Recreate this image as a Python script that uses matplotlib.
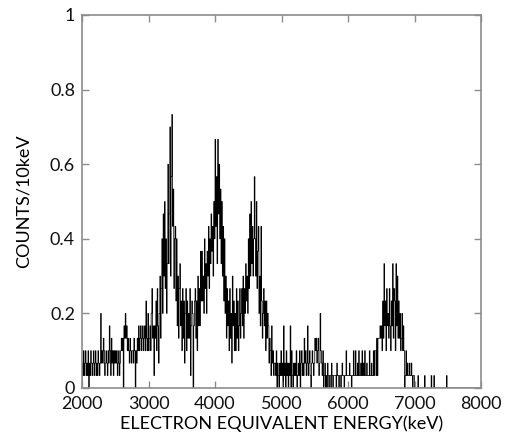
import numpy as np
import matplotlib
matplotlib.use('Agg')
import matplotlib.pyplot as plt

plt.rcParams['font.family'] = ['Lato', 'DejaVu Sans']

# 10 keV bins from 2000 to 8000 keV, counts in units of 1/30
bin_start = 2000
bin_width = 10
scale = 30.0

counts = [
    2, 1, 3, 1, 2, 3, 1, 2, 1, 3,      # 2000
    0, 2, 1, 3, 2, 1, 2, 3, 1, 2,      # 2100
    3, 1, 2, 1, 3, 2, 1, 2, 6, 2,      # 2200
    3, 2, 4, 3, 1, 2, 3, 2, 1, 3,      # 2300
    2, 5, 3, 1, 4, 2, 3, 1, 3, 2,      # 2400
    3, 2, 3, 1, 2, 3, 1, 2, 3, 4,      # 2500
    3, 4, 0, 5, 4, 6, 4, 5, 3, 4,      # 2600
    3, 2, 4, 3, 2, 3, 3, 2, 4, 3,      # 2700
    0, 3, 2, 4, 3, 5, 3, 4, 5, 3,      # 2800
    4, 5, 3, 4, 5, 3, 7, 4, 3, 6,      # 2900
    3, 4, 5, 3, 6, 8, 4, 5, 1, 5,      # 3000
    4, 7, 3, 8, 5, 2, 6, 9, 4, 8,      # 3100
    12, 6, 14, 9, 15, 8, 12, 6, 10, 18,    # 3200
    10, 14, 21, 9, 17, 22, 13, 16, 8, 12,  # 3300
    13, 7, 12, 5, 9, 4, 8, 10, 5, 7,   # 3400
    3, 8, 4, 7, 2, 6, 8, 3, 7, 4,      # 3500
    6, 4, 8, 1, 5, 7, 6, 0, 5, 7,      # 3600
    8, 4, 7, 3, 9, 5, 8, 5, 11, 7,     # 3700
    11, 7, 9, 6, 12, 8, 10, 6, 11, 9,  # 3800
    13, 8, 12, 10, 14, 11, 13, 9, 15, 12,  # 3900
    20, 13, 17, 10, 20, 14, 18, 12, 16, 10,  # 4000
    15, 9, 13, 7, 12, 6, 9, 4, 8, 5,   # 4100
    7, 3, 8, 4, 6, 2, 9, 5, 7, 3,      # 4200
    6, 3, 8, 4, 7, 3, 5, 8, 4, 6,      # 4300
    8, 5, 9, 4, 8, 6, 10, 7, 9, 6,     # 4400
    12, 8, 14, 9, 15, 10, 13, 9, 12, 17,   # 4500
    12, 9, 15, 8, 11, 13, 6, 9, 5, 13,  # 4600
    7, 4, 6, 8, 5, 7, 3, 7, 4, 6,      # 4700
    5, 2, 4, 3, 1, 5, 2, 3, 1, 2,      # 4800
    2, 1, 3, 0, 2, 1, 0, 2, 1, 3,      # 4900
    1, 2, 0, 5, 1, 2, 0, 3, 1, 2,      # 5000
    0, 2, 1, 5, 0, 3, 1, 0, 2, 1,      # 5100
    2, 1, 3, 0, 1, 2, 1, 3, 0, 2,      # 5200
    3, 1, 2, 1, 4, 2, 3, 1, 2, 5,      # 5300
    1, 2, 3, 1, 0, 2, 3, 2, 1, 2,      # 5400
    4, 3, 4, 2, 3, 4, 1, 2, 6, 3,      # 5500
    2, 1, 3, 0, 1, 2, 0, 1, 0, 2,      # 5600
    1, 0, 1, 1, 0, 2, 1, 0, 1, 1,      # 5700
    1, 1, 0, 2, 1, 1, 0, 1, 1, 0,      # 5800
    1, 2, 1, 1, 0, 1, 1, 3, 1, 1,      # 5900
    1, 1, 2, 1, 1, 0, 1, 1, 3, 1,      # 6000
    1, 3, 1, 1, 2, 1, 3, 1, 1, 2,      # 6100
    1, 3, 1, 2, 1, 3, 1, 1, 2, 1,      # 6200
    1, 1, 3, 1, 1, 2, 1, 1, 3, 1,      # 6300
    3, 3, 1, 4, 1, 4, 4, 4, 5, 4,      # 6400
    5, 3, 7, 4, 10, 5, 7, 3, 8, 5,     # 6500
    6, 4, 8, 5, 3, 7, 5, 10, 4, 8,     # 6600
    7, 3, 10, 5, 9, 4, 7, 4, 6, 3,     # 6700
    4, 6, 3, 5, 3, 0, 1, 3, 1, 2,      # 6800
    1, 1, 2, 1, 1, 2, 1, 0, 1, 1,      # 6900
    0, 0, 0, 0, 0, 1, 0, 0, 0, 0,      # 7000
    0, 0, 0, 0, 0, 1, 0, 0, 0, 0,      # 7100
    0, 0, 0, 0, 0, 1, 0, 0, 0, 1,      # 7200
    0, 0, 0, 0, 0, 0, 0, 0, 0, 0,      # 7300
    0, 0, 0, 0, 0, 0, 0, 0, 1, 0,      # 7400
]
# rest of the range up to 8000 keV is empty
counts = counts + [0] * (600 - len(counts))

values = np.array(counts) / scale
edges = bin_start + bin_width * np.arange(len(values) + 1)

xticks = [2000, 3000, 4000, 5000, 6000, 7000, 8000]
yticks = [0, 0.2, 0.4, 0.6, 0.8, 1.0]
yticklabels = ['0', '0.2', '0.4', '0.6', '0.8', '1']

fig = plt.figure(figsize=(5.05, 4.36), dpi=100)
ax = fig.add_axes([0.1624, 0.1101, 0.7901, 0.8555])

ax.stairs(values, edges, color='black', linewidth=0.55)

ax.set_xlim(2000, 8000)
ax.set_ylim(0, 1)
ax.set_xticks(xticks)
ax.set_yticks(yticks)
ax.set_yticklabels(yticklabels)

for sp in ax.spines.values():
    sp.set_color('#8c8c8c')
    sp.set_linewidth(1.2)
ax.tick_params(direction='in', length=5, width=1, color='#8c8c8c',
               top=True, right=True, labelsize=13, labelcolor='#111111')
ax.tick_params(axis='x', pad=6)
ax.tick_params(axis='y', pad=5)

ax.set_xlabel('ELECTRON EQUIVALENT ENERGY(keV)', fontsize=13, labelpad=2)
ax.set_ylabel('COUNTS/10keV', fontsize=13, labelpad=13)

plt.savefig('out.png', dpi=100)
